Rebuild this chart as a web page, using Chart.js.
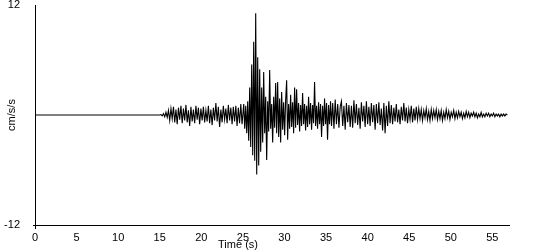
<!DOCTYPE html>
<html>
<head>
<meta charset="utf-8">
<script src="https://cdn.jsdelivr.net/npm/chart.js@4"></script>
<style>
  html, body { margin: 0; padding: 0; background: #fff; }
</style>
</head>
<body>
<canvas id="accelChart" width="550" height="250"></canvas>
<script>
// Beschleunigung (cm/s/s) ueber Zeit (s)
const quietTimes = [0, 15];
const quietValues = [0, 0];

// P-Wellen-Abschnitt
const pStart = 15.0, pStep = 0.15;
const pValues = [
  0, 0.05, -0.1, 0.15, -0.2, 0.3, -0.25, 0.5, -0.6, 0.7,
  -0.4, 0.9, -0.8, 0.6, -1.0, 0.8, -0.5, 1.0, -0.9, 0.7,
  -0.6, 1.1, -0.8, 0.5, -1.2, 0.9, -0.7, 0.6, -0.9, 1.0,
  -0.5, 0.8, -1.0, 0.7, -0.6, 0.9, -0.8, 0.5, -0.7, 1.0,
  -0.9, 0.6, -1.1, 0.8, -0.6, 1.3, -0.7, 0.9, -1.3, 0.6,
  -0.8, 1.0, -0.5, 0.7, -0.9, 1.1, -0.6, 0.8, -1.0, 0.9,
  -0.7, 1.0, -1.2, 0.8, -0.9, 1.2, -1.0
];

// S-Wellen-Abschnitt (Hauptstoss)
const sStart = 25.1, sStep = 0.12;
const sValues = [
  1.2, -1.5, 1.0, -2.0, 1.5, -2.8, 3.0, -3.5, 5.5, -4.4,
  8.0, -5.0, 11.1, -6.5, 6.3, -5.5, 5.0, -4.0, 3.0, -3.0,
  4.7, -2.0, 2.0, -4.9, 1.5, -1.8, 4.9, -1.5, 1.2, -3.0,
  2.0, -1.4, 3.5, -2.0, 3.6, -2.4, 1.8, -3.0, 2.5, -1.6,
  1.4, -2.2, 1.6, 3.8, -2.7, 1.2, -1.5, 2.2, -1.3, 1.4,
  -2.0, 3.0, -1.4, 2.8, -1.1, 1.3, -1.8, 1.1, -1.2, 2.4,
  -1.0, 1.2, -1.7, 1.0, -1.3, 2.0, -1.0, 1.3, -1.6, 1.1,
  -0.9, 3.6, -1.2, 1.0, -1.5, 1.4, -1.0, 1.2, -2.4, 1.0,
  -1.2, 1.8, -1.0, 1.3, -2.7, 1.1, -1.0, 1.5, -1.2
];

// Coda
const codaStart = 35.8, codaStep = 0.15;
const codaValues = [
  1.3, -1.5, 1.7, -1.0, 1.2, -1.4, 0.9, 1.5, -1.2, 1.0, -1.6, 1.3, -0.8, 1.1, -1.3,
  1.0, -1.4, 1.6, -0.9, 1.2, -1.1, 0.8, -1.5, 1.4, -0.7, 1.0, -1.3, 1.5, -1.0, 0.9,
  -1.2, 1.3, -0.8, 1.1, -1.6, 1.2, -0.9, 1.4, -1.1, 0.7, -1.7, 1.3, -2.0, 1.0, -1.2,
  1.5, -0.9, 1.1, -1.0, 0.8, -0.7, 1.2, -0.8, 0.6, -1.0, 0.9, -0.6, 1.3, -0.7, 0.8,
  -0.9, 0.6, -0.5, 1.0, -0.8, 0.7, -0.6, 0.9,
  -0.5, 0.7, -0.4, 0.6, -0.6, 0.5, -0.3, 0.7, -0.5, 0.4, -0.6, 0.6, -0.4, 0.5, -0.3,
  0.6, -0.5, 0.4, -0.4, 0.5, -0.6, 0.3, -0.4, 0.6, -0.3, 0.4, -0.5, 0.3, -0.2, 0.5,
  -0.4, 0.3, -0.3, 0.4, -0.2, 0.3, -0.4, 0.2, -0.3, 0.4,
  -0.2, 0.3, -0.3, 0.2, -0.1, 0.3, -0.2, 0.2, -0.3, 0.1, -0.2, 0.3, -0.2, 0.1, -0.2,
  0.2, -0.1, 0.2, -0.2, 0.1, -0.1, 0.2, -0.2, 0.1, -0.1, 0.1, -0.2, 0.1, -0.1, 0.1,
  -0.1, 0.1, 0
];

const xTicks = [0, 5, 10, 15, 20, 25, 30, 35, 40, 45, 50, 55];
const yTicks = [-12, 12];
const xTitle = 'Time (s)';
const yTitle = 'cm/s/s';

// Punkte zusammenbauen
const points = [];
quietTimes.forEach((t, i) => points.push({ x: t, y: quietValues[i] }));
pValues.forEach((v, i) => points.push({ x: pStart + i * pStep, y: v }));
sValues.forEach((v, i) => points.push({ x: sStart + i * sStep, y: v }));
codaValues.forEach((v, i) => points.push({ x: codaStart + i * codaStep, y: v }));

const FONT = { family: '"Liberation Sans", Arial, sans-serif', size: 11 };

// Achsentitel selbst zeichnen
const axisTitles = {
  id: 'axisTitles',
  afterDraw(chart) {
    const c = chart.ctx;
    c.save();
    c.fillStyle = '#000';
    c.font = '11px "Liberation Sans", Arial, sans-serif';
    c.textAlign = 'center';
    c.textBaseline = 'middle';
    c.fillText(xTitle, 238, 245);
    c.translate(12, chart.scales.y.getPixelForValue(0));
    c.rotate(-Math.PI / 2);
    c.fillText(yTitle, 0, 0);
    c.restore();
  }
};

new Chart(document.getElementById('accelChart').getContext('2d'), {
  type: 'line',
  data: {
    datasets: [{
      data: points,
      borderColor: '#000',
      borderWidth: 1.1,
      pointRadius: 0,
      tension: 0,
      fill: false
    }]
  },
  options: {
    responsive: false,
    animation: false,
    devicePixelRatio: 1,
    layout: { padding: { top: 5, right: 41, left: 0, bottom: 0 } },
    plugins: { legend: { display: false }, tooltip: { enabled: false } },
    scales: {
      x: {
        type: 'linear',
        min: 0,
        max: 57,
        afterBuildTicks: s => { s.ticks = xTicks.map(v => ({ value: v })); },
        afterFit: s => { s.height = 25; s.paddingLeft = 0; s.paddingRight = 0; },
        ticks: { color: '#000', font: FONT, padding: 2, maxRotation: 0, autoSkip: false },
        grid: {
          drawOnChartArea: false,
          tickLength: 4,
          color: ctx => (ctx.tick && ctx.tick.value === 0 ? '#000' : 'rgba(0,0,0,0)')
        },
        border: { display: true, color: '#000', width: 1 }
      },
      y: {
        min: -12,
        max: 12,
        afterBuildTicks: s => { s.ticks = yTicks.map(v => ({ value: v })); },
        afterFit: s => { s.width = 35; s.paddingTop = 0; s.paddingBottom = 0; },
        ticks: { color: '#000', font: FONT, padding: 13 },
        grid: {
          drawOnChartArea: false,
          tickLength: 2,
          color: ctx => (ctx.tick && ctx.tick.value === -12 ? '#000' : 'rgba(0,0,0,0)')
        },
        border: { display: true, color: '#000', width: 1 }
      }
    }
  },
  plugins: [axisTitles]
});
</script>
</body>
</html>
